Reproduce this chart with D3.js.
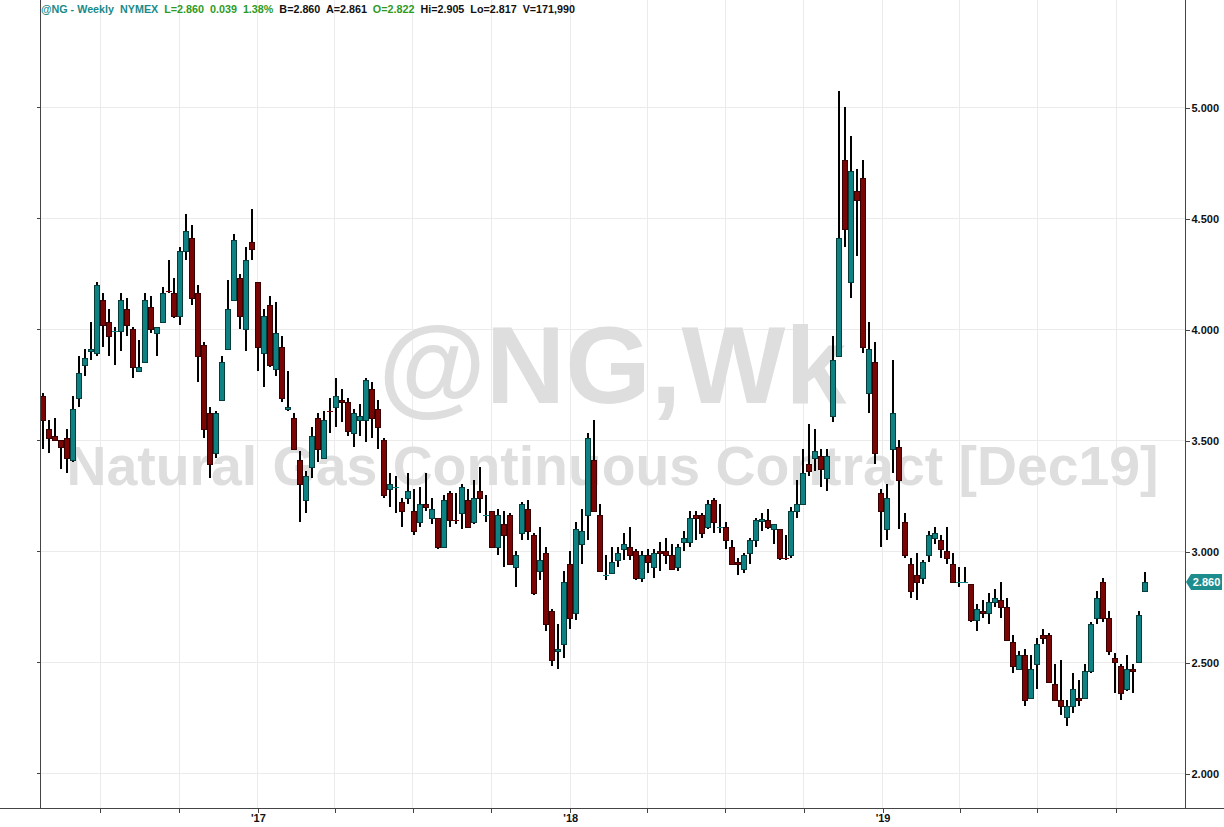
<!DOCTYPE html>
<html><head><meta charset="utf-8">
<script src="https://cdn.jsdelivr.net/npm/d3@7"></script>
<style>
body{margin:0;background:#fff;}
svg{display:block;}
text{font-family:"Liberation Sans",Arial,sans-serif;font-weight:bold;}
</style>
</head><body>
<svg id="chart" width="1224" height="827"></svg>
<script>
// ---- data (weekly candles, NG continuous) ----
const firstWeek = "2016-04-24";
const opens = [3.70,3.55,3.52,3.50,3.51,3.41,3.69,3.84,3.90,3.89,
4.13,4.03,3.99,3.99,4.09,4.00,3.81,3.85,4.10,3.98,
4.03,4.17,4.16,4.06,4.35,4.41,4.16,3.93,3.62,3.44,
3.68,3.91,4.13,4.23,4.00,4.39,4.21,3.89,4.11,3.82,
3.92,3.64,3.60,3.41,3.23,3.38,3.60,3.42,3.63,3.65,
3.68,3.67,3.53,3.59,3.59,3.73,3.64,3.50,3.28,3.29,
3.22,3.24,3.18,3.13,3.21,3.15,3.15,3.02,3.26,3.14,
3.17,3.23,3.13,3.27,3.16,3.18,3.02,3.12,3.16,2.93,
3.08,3.19,3.07,2.91,2.99,2.73,2.55,2.58,2.94,2.72,
3.03,3.16,3.41,3.16,2.89,2.90,2.96,3.01,3.02,3.00,
2.88,2.98,2.93,3.00,3.00,2.98,2.93,3.04,3.04,3.16,
3.16,3.11,3.23,3.11,3.11,3.02,2.95,2.92,2.99,3.05,
3.135,3.14,3.10,3.10,2.97,2.98,3.18,3.21,3.39,3.42,
3.43,3.33,3.61,3.88,4.76,4.21,4.62,4.68,3.71,3.85,
3.26,3.10,3.46,3.47,3.13,2.94,2.89,2.88,2.98,3.06,
3.05,3.00,2.94,2.86,2.86,2.85,2.69,2.73,2.72,2.77,
2.78,2.75,2.59,2.47,2.53,2.34,2.49,2.62,2.62,2.40,
2.33,2.25,2.30,2.34,2.34,2.46,2.70,2.86,2.70,2.52,
2.48,2.38,2.47,2.50,2.822];
const highs = [3.71,3.59,3.60,3.50,3.55,3.70,3.88,3.91,4.03,4.21,
4.16,4.09,4.01,4.16,4.14,4.01,3.95,4.16,4.15,4.01,
4.19,4.31,4.23,4.37,4.52,4.47,4.20,3.94,3.65,3.63,
3.88,4.22,4.43,4.25,4.37,4.54,4.21,4.09,4.15,4.12,
3.97,3.81,3.62,3.45,3.36,3.56,3.62,3.63,3.69,3.78,
3.73,3.69,3.64,3.66,3.78,3.76,3.68,3.51,3.35,3.34,
3.24,3.35,3.28,3.29,3.35,3.24,3.15,3.25,3.27,3.26,
3.30,3.28,3.32,3.38,3.25,3.18,3.19,3.18,3.17,3.00,
3.22,3.23,3.08,3.11,3.02,2.74,2.67,2.91,3.00,3.13,
3.19,3.53,3.59,3.21,2.98,3.02,3.02,3.08,3.11,3.01,
3.00,3.01,3.01,3.04,3.06,3.03,3.03,3.09,3.18,3.18,
3.17,3.23,3.24,3.21,3.13,3.05,2.97,2.99,3.06,3.15,
3.17,3.19,3.12,3.10,3.07,3.20,3.32,3.46,3.57,3.55,
3.46,3.46,3.97,5.07,5.00,4.87,4.72,4.76,4.03,3.94,
3.28,3.30,3.86,3.50,3.17,2.97,2.99,2.96,3.09,3.11,
3.07,3.11,2.99,2.93,2.93,2.85,2.76,2.78,2.81,2.83,
2.86,2.79,2.62,2.55,2.56,2.53,2.61,2.65,2.63,2.49,
2.51,2.33,2.45,2.42,2.49,2.68,2.82,2.88,2.73,2.54,
2.49,2.53,2.49,2.73,2.905];
const lows = [3.46,3.44,3.50,3.37,3.35,3.40,3.65,3.79,3.86,3.88,
3.92,3.88,3.84,3.90,3.97,3.78,3.81,3.85,3.98,3.88,
4.03,4.16,4.05,4.02,4.31,4.11,3.76,3.51,3.33,3.42,
3.68,3.91,4.13,4.00,3.90,4.31,3.81,3.74,3.83,3.79,
3.67,3.63,3.46,3.13,3.17,3.33,3.40,3.42,3.53,3.56,
3.58,3.52,3.47,3.52,3.49,3.51,3.46,3.24,3.20,3.17,
3.11,3.21,3.07,3.11,3.18,3.12,3.01,3.02,3.11,3.12,
3.10,3.11,3.12,3.17,3.13,3.02,2.98,2.93,2.94,2.84,
3.05,3.05,2.80,2.87,2.64,2.48,2.47,2.52,2.65,2.69,
2.94,3.05,3.18,2.91,2.87,2.90,2.93,2.96,2.96,2.87,
2.86,2.90,2.88,2.91,2.94,2.92,2.91,3.00,3.02,3.05,
3.06,3.10,3.08,3.08,3.01,2.94,2.89,2.90,2.94,3.02,
3.09,3.10,3.03,2.96,2.96,2.97,3.15,3.21,3.34,3.36,
3.29,3.27,3.58,3.88,4.37,4.14,4.33,3.89,3.62,3.39,
3.02,3.05,3.35,3.10,2.97,2.79,2.78,2.85,2.95,3.03,
2.97,2.94,2.86,2.84,2.855,2.68,2.64,2.70,2.67,2.75,
2.70,2.60,2.45,2.47,2.30,2.34,2.38,2.58,2.41,2.33,
2.26,2.21,2.27,2.30,2.34,2.45,2.67,2.68,2.53,2.36,
2.33,2.37,2.36,2.50,2.817];
const closes = [3.59,3.51,3.50,3.47,3.42,3.64,3.80,3.87,3.91,4.20,
4.02,3.97,3.99,4.13,4.02,3.83,3.83,4.13,4.00,4.01,
4.16,4.165,4.06,4.35,4.44,4.14,3.88,3.55,3.39,3.62,
3.85,4.09,4.40,4.06,4.31,4.36,3.92,4.06,3.84,3.98,
3.69,3.65,3.46,3.30,3.34,3.52,3.46,3.59,3.625,3.70,
3.67,3.54,3.62,3.61,3.77,3.60,3.56,3.25,3.30,3.29,
3.18,3.27,3.09,3.21,3.20,3.19,3.02,3.23,3.14,3.135,
3.29,3.11,3.24,3.24,3.16,3.02,3.16,3.07,2.94,2.98,
3.21,3.09,2.81,2.96,2.67,2.51,2.56,2.86,2.70,3.10,
3.09,3.51,3.18,2.91,2.89,2.95,2.99,3.03,2.98,2.88,
2.98,2.95,2.99,2.99,2.98,2.92,3.02,3.06,3.15,3.15,
3.08,3.21,3.13,3.11,3.05,2.94,2.94,2.98,3.05,3.14,
3.145,3.11,3.12,2.97,2.965,3.18,3.21,3.35,3.36,3.45,
3.37,3.43,3.86,4.41,4.45,4.71,4.58,3.92,3.91,3.44,
3.18,3.24,3.62,3.32,2.98,2.82,2.86,2.95,3.07,3.08,
3.01,2.97,2.86,2.86,2.86,2.69,2.74,2.72,2.77,2.79,
2.75,2.60,2.48,2.53,2.33,2.47,2.58,2.61,2.41,2.33,
2.30,2.30,2.38,2.33,2.46,2.67,2.79,2.70,2.55,2.50,
2.36,2.47,2.46,2.71,2.860];
const priceTicks = [2.0,2.5,3.0,3.5,4.0,4.5,5.0];
const lastPrice = 2.860;
const headerItems = [
  ["@NG - Weekly", "#1a8a8a"], ["NYMEX", "#1a8a8a"],
  ["L=2.860", "#2e9a1e"], ["0.039", "#2e9a1e"], ["1.38%", "#2e9a1e"],
  ["B=2.860", "#111"], ["A=2.861", "#111"], ["O=2.822", "#2e9a1e"],
  ["Hi=2.905", "#111"], ["Lo=2.817", "#111"], ["V=171,990", "#111"]
];
const watermark1 = "@NG,Wk";
const watermark2 = "Natural Gas Continuous Contract [Dec19]";

// ---- layout ----
const W = 1224, H = 827;
const left = 40, right = 1185, bottom = 808;
const svg = d3.select("#chart");

const start = new Date(firstWeek + "T00:00:00Z");
const dates = opens.map((_, i) => d3.utcDay.offset(start, 7 * i));
const data = dates.map((d, i) => ({d, o: opens[i], h: highs[i], l: lows[i], c: closes[i]}));

const x = d3.scaleUtc()
  .domain([new Date(Date.UTC(2016, 3, 22)), new Date(Date.UTC(2019, 11, 21))])
  .range([left, right]);
const y = d3.scaleLinear().domain([2, 5]).range([773, 107]);

const quarters = d3.utcMonth.every(3).range(x.domain()[0], x.domain()[1]);

// grid
const grid = svg.append("g").attr("shape-rendering", "crispEdges");
grid.selectAll("line.h").data(priceTicks).join("line")
  .attr("x1", left).attr("x2", right)
  .attr("y1", d => Math.round(y(d)) + 0.5).attr("y2", d => Math.round(y(d)) + 0.5)
  .attr("stroke", "#ebebeb");
grid.selectAll("line.v").data(quarters).join("line")
  .attr("x1", d => Math.round(x(d)) + 0.5).attr("x2", d => Math.round(x(d)) + 0.5)
  .attr("y1", 0).attr("y2", bottom)
  .attr("stroke", "#ebebeb");

// watermark
svg.append("text").text(watermark1)
  .attr("x", (left + right) / 2).attr("y", 403)
  .attr("text-anchor", "middle").attr("font-size", 110).attr("fill", "#dedede");
svg.append("text").text(watermark2)
  .attr("x", (left + right) / 2).attr("y", 485)
  .attr("text-anchor", "middle").attr("font-size", 55).attr("fill", "#dedede")
  .attr("textLength", 1092).attr("lengthAdjust", "spacingAndGlyphs");

// candles
const upFill = "#0e8282", upStroke = "#053d3d";
const dnFill = "#7a0505", dnStroke = "#380000";
const cg = svg.append("g").attr("shape-rendering", "crispEdges");
const candle = cg.selectAll("g.c").data(data).join("g");
candle.append("rect")
  .attr("x", d => Math.round(x(d.d)))
  .attr("width", 2)
  .attr("y", d => Math.round(y(d.h)))
  .attr("height", d => Math.max(1, Math.round(y(d.l)) - Math.round(y(d.h))))
  .attr("fill", "#000");
candle.each(function(d) {
  const g = d3.select(this);
  const cx = Math.round(x(d.d));
  const up = d.c >= d.o;
  const top = Math.round(y(Math.max(d.o, d.c)));
  const bot = Math.round(y(Math.min(d.o, d.c)));
  const h = bot - top;
  if (h < 2) {
    g.append("rect").attr("x", cx - 2).attr("y", top).attr("width", 6).attr("height", Math.max(1, h))
      .attr("fill", up ? upFill : dnFill);
  } else {
    g.append("rect").attr("x", cx - 2).attr("y", top).attr("width", 6).attr("height", h + 1)
      .attr("fill", up ? upStroke : dnStroke);
    g.append("rect").attr("x", cx - 1).attr("y", top + 1).attr("width", 4).attr("height", h - 1)
      .attr("fill", up ? upFill : dnFill);
  }
});

// axes frame
const frame = svg.append("g").attr("shape-rendering", "crispEdges").attr("stroke", "#444");
frame.append("line").attr("x1", left + 0.5).attr("x2", left + 0.5).attr("y1", 0).attr("y2", bottom);
frame.append("line").attr("x1", right + 0.5).attr("x2", right + 0.5).attr("y1", 0).attr("y2", bottom);
frame.append("line").attr("x1", 0).attr("x2", W).attr("y1", bottom + 0.5).attr("y2", bottom + 0.5);

// left tick stubs
svg.append("g").attr("shape-rendering", "crispEdges").selectAll("line").data(priceTicks).join("line")
  .attr("x1", left - 3).attr("x2", left)
  .attr("y1", d => Math.round(y(d)) + 0.5).attr("y2", d => Math.round(y(d)) + 0.5)
  .attr("stroke", "#444");

// right axis
const yAxis = svg.append("g").attr("transform", `translate(${right + 0.5},0.5)`)
  .call(d3.axisRight(y).tickValues(priceTicks).tickFormat(d3.format(".3f")).tickSize(4).tickPadding(2));
yAxis.select(".domain").remove();
yAxis.selectAll("line").attr("stroke", "#444").attr("shape-rendering", "crispEdges");
yAxis.selectAll("text").attr("font-size", 11).attr("fill", "#111")
  .attr("font-family", "'Liberation Sans',Arial,sans-serif").attr("font-weight", "bold");

// bottom axis
const xAxis = svg.append("g").attr("transform", `translate(0.5,${bottom + 0.5})`)
  .call(d3.axisBottom(x).tickValues(quarters)
    .tickFormat(d => d.getUTCMonth() === 0 ? "'" + String(d.getUTCFullYear()).slice(2) : "")
    .tickSize(4).tickPadding(2));
xAxis.select(".domain").remove();
xAxis.selectAll("line").attr("stroke", "#444").attr("shape-rendering", "crispEdges");
xAxis.selectAll("text").attr("font-size", 11).attr("fill", "#111")
  .attr("font-family", "'Liberation Sans',Arial,sans-serif").attr("font-weight", "bold");

// last price tag
const ty = Math.round(y(lastPrice));
svg.append("path")
  .attr("d", `M${right + 1},${ty} L${right + 6},${ty - 8} L${W - 2},${ty - 8} L${W - 2},${ty + 8} L${right + 6},${ty + 8} Z`)
  .attr("fill", "#1d8c8c");
svg.append("text").text(d3.format(".3f")(lastPrice))
  .attr("x", right + 6 + (W - 2 - right - 6) / 2).attr("y", ty).attr("dy", "0.35em")
  .attr("text-anchor", "middle").attr("font-size", 11).attr("fill", "#fff");

// header: one line of tokens, separated by gaps, fitted to the reference span
const header = svg.append("text").attr("x", 41).attr("y", 13).attr("font-size", 11)
  .attr("textLength", 534).attr("lengthAdjust", "spacingAndGlyphs")
  .attr("xml:space", "preserve").style("white-space", "pre");
header.selectAll("tspan").data(headerItems).join("tspan")
  .attr("fill", d => d[1])
  .text((d, i) => (i === 0 ? "" : "  ") + d[0]);
</script>
</body></html>
